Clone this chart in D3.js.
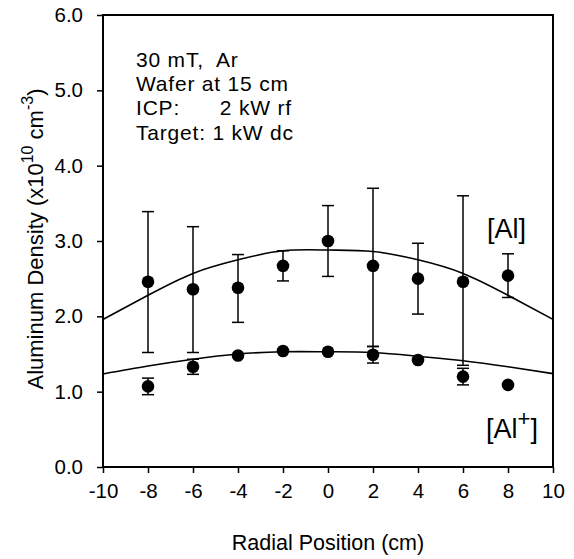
<!DOCTYPE html>
<html>
<head>
<meta charset="utf-8">
<script src="https://cdn.jsdelivr.net/npm/d3@7"></script>
<style>
  html, body { margin: 0; padding: 0; background: #fff; }
  svg text { font-family: "Liberation Sans", Arial, Helvetica, sans-serif; fill: #000; }
</style>
</head>
<body>
<svg id="chart" width="574" height="559"></svg>
<script>
// ---- data ----
const positions = [-8, -6, -4, -2, 0, 2, 4, 6, 8];
const alValues  = [2.46, 2.36, 2.38, 2.67, 3.00, 2.67, 2.50, 2.46, 2.54];
const alUpper   = [3.39, 3.19, 2.82, 2.87, 3.47, 3.70, 2.97, 3.60, 2.83];
const alLower   = [1.52, 1.52, 1.92, 2.47, 2.53, 1.60, 2.03, 1.35, 2.25];
const ionValues = [1.07, 1.33, 1.48, 1.54, 1.53, 1.49, 1.42, 1.20, 1.09];
const ionUpper  = [1.18, 1.43, null, null, null, 1.60, null, 1.31, null];
const ionLower  = [0.96, 1.23, null, null, null, 1.38, null, 1.09, null];
const fitX      = [-10, -8, -6, -4, -2, 0, 2, 4, 6, 8, 10];
const alFit     = [1.96, 2.28, 2.57, 2.75, 2.87, 2.88, 2.86, 2.75, 2.57, 2.28, 1.96];
const ionFit    = [1.235, 1.34, 1.43, 1.50, 1.53, 1.53, 1.52, 1.47, 1.41, 1.33, 1.24];
const xTicks    = [-10, -8, -6, -4, -2, 0, 2, 4, 6, 8, 10];
const yTicks    = [0, 1, 2, 3, 4, 5, 6];
const noteLines = ["30 mT,  Ar", "Wafer at 15 cm", "ICP:      2 kW rf", "Target: 1 kW dc"];

// ---- layout ----
const L = 103, R = 553, T = 15, B = 467;
const svg = d3.select("#chart");
const x = d3.scaleLinear().domain([-10, 10]).range([L, R]);
const y = d3.scaleLinear().domain([0, 6]).range([B, T]);

// axes
const yAxis = d3.axisLeft(y).tickValues(yTicks).tickSize(6).tickPadding(14).tickFormat(d3.format(".1f"));
const gy = svg.append("g").attr("transform", `translate(${L},0)`).call(yAxis);
gy.select(".domain").remove();
gy.selectAll("line").attr("stroke", "#000").attr("stroke-width", 1.5);
gy.selectAll("text").attr("font-size", 20.5);

const xAxis = d3.axisBottom(x).tickValues(xTicks).tickSize(6).tickPadding(10).tickFormat(d => String(d));
const gx = svg.append("g").attr("transform", `translate(0,${B})`).call(xAxis);
gx.select(".domain").remove();
gx.selectAll("line").attr("stroke", "#000").attr("stroke-width", 1.5);
gx.selectAll("text").attr("font-size", 20.5);

// frame
svg.append("rect").attr("x", L).attr("y", T).attr("width", R - L).attr("height", B - T)
  .attr("fill", "none").attr("stroke", "#000").attr("stroke-width", 2);

// fit curves
const line = d3.line().x(d => x(d[0])).y(d => y(d[1])).curve(d3.curveNatural);
[alFit, ionFit].forEach(arr => {
  svg.append("path").datum(fitX.map((v, i) => [v, arr[i]]))
    .attr("d", line).attr("fill", "none").attr("stroke", "#000").attr("stroke-width", 1.6);
});

// error bars
function errorBars(up, lo) {
  const data = positions.map((p, i) => ({p, u: up[i], l: lo[i]})).filter(d => d.u != null);
  const g = svg.append("g").attr("stroke", "#000").attr("stroke-width", 1.5);
  g.selectAll("line.v").data(data).enter().append("line")
    .attr("x1", d => x(d.p)).attr("x2", d => x(d.p)).attr("y1", d => y(d.u)).attr("y2", d => y(d.l));
  g.selectAll("line.t").data(data).enter().append("line")
    .attr("x1", d => x(d.p) - 6).attr("x2", d => x(d.p) + 6).attr("y1", d => y(d.u)).attr("y2", d => y(d.u));
  g.selectAll("line.b").data(data).enter().append("line")
    .attr("x1", d => x(d.p) - 6).attr("x2", d => x(d.p) + 6).attr("y1", d => y(d.l)).attr("y2", d => y(d.l));
}
errorBars(alUpper, alLower);
errorBars(ionUpper, ionLower);

// points
[alValues, ionValues].forEach(vals => {
  svg.append("g").selectAll("circle").data(positions.map((p, i) => [p, vals[i]])).enter()
    .append("circle").attr("cx", d => x(d[0])).attr("cy", d => y(d[1])).attr("r", 6.3).attr("fill", "#000");
});

// annotation
const note = svg.append("text").attr("font-size", 21).attr("letter-spacing", 0.8).attr("xml:space", "preserve");
noteLines.forEach((t, i) => {
  note.append("tspan").attr("x", 136).attr("y", 67 + i * 24.2).text(t);
});

// series labels
svg.append("text").attr("x", 487).attr("y", 238).attr("font-size", 27).text("[Al]");
const ion = svg.append("text").attr("x", 486).attr("y", 438).attr("font-size", 27);
ion.append("tspan").text("[Al");
ion.append("tspan").attr("font-size", 22).attr("dy", -12).text("+");
ion.append("tspan").attr("dy", 12).text("]");

// axis titles
svg.append("text").attr("x", (L + R) / 2).attr("y", 550).attr("text-anchor", "middle")
  .attr("font-size", 21.5).text("Radial Position (cm)");
const yt = svg.append("text").attr("transform", `translate(43,${(T + B) / 2 - 2}) rotate(-90)`)
  .attr("text-anchor", "middle").attr("font-size", 22);
yt.append("tspan").text("Aluminum Density (x10");
yt.append("tspan").attr("font-size", 16).attr("dy", -10).text("10");
yt.append("tspan").attr("dy", 10).text(" cm");
yt.append("tspan").attr("font-size", 16).attr("dy", -10).text("-3");
yt.append("tspan").attr("dy", 10).text(")");
</script>
</body>
</html>
